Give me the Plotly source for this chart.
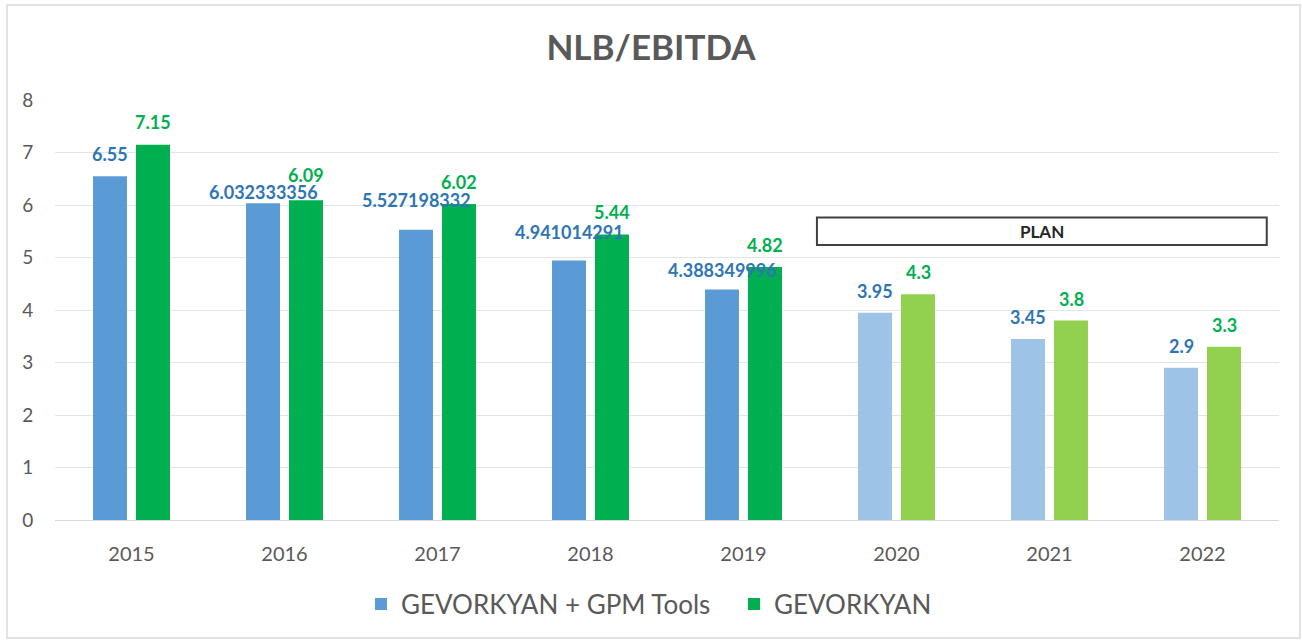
import plotly.graph_objects as go

years = ["2015", "2016", "2017", "2018", "2019", "2020", "2021", "2022"]
tools_vals = [6.55, 6.032333356, 5.527198332, 4.941014291, 4.388349996, 3.95, 3.45, 2.9]
gev_vals = [7.15, 6.09, 6.02, 5.44, 4.82, 4.3, 3.8, 3.3]
tools_labels = ["6.55", "6.032333356", "5.527198332", "4.941014291", "4.388349996", "3.95", "3.45", "2.9"]
gev_labels = ["7.15", "6.09", "6.02", "5.44", "4.82", "4.3", "3.8", "3.3"]
plan_years = {"2020", "2021", "2022"}

# label lift above bar top (px) - style only
tools_label_lift = [22, 11, 30, 29, 20, 22, 22, 22]
gev_label_lift = [23, 25, 22, 22, 22, 22, 22, 22]

blue_fact, blue_plan = "#5B9BD5", "#9DC3E6"
green_fact, green_plan = "#00B050", "#92D050"
tools_colors = [blue_plan if y in plan_years else blue_fact for y in years]
gev_colors = [green_plan if y in plan_years else green_fact for y in years]

FONT = "Lato"
GRAY = "#595959"

W, H = 1302, 640
PL, PR, PT, PB = 55, 1279, 100, 520   # plot area in page pixels


def px_x(page_x):
    return (page_x - PL) / (PR - PL)


def px_y(page_y):
    return (PB - page_y) / (PB - PT)


fig = go.Figure()
fig.add_trace(go.Bar(name="GEVORKYAN + GPM Tools", x=years, y=tools_vals,
                     marker=dict(color=tools_colors, line=dict(width=0))))
fig.add_trace(go.Bar(name="GEVORKYAN", x=years, y=gev_vals,
                     marker=dict(color=gev_colors, line=dict(width=0))))

# data labels (category axis -> use category index)
for i, (v, t, s) in enumerate(zip(tools_vals, tools_labels, tools_label_lift)):
    fig.add_annotation(x=i, y=v, text=t, showarrow=False, xref="x", yref="y",
                       xshift=-21.5, yshift=s, yanchor="middle",
                       font=dict(family=FONT, size=18, color="#2E75B6", weight="bold"))
for i, (v, t, s) in enumerate(zip(gev_vals, gev_labels, gev_label_lift)):
    fig.add_annotation(x=i, y=v, text=t, showarrow=False, xref="x", yref="y",
                       xshift=21.5, yshift=s, yanchor="middle",
                       font=dict(family=FONT, size=18, color="#00B050", weight="bold"))

# PLAN box
fig.add_shape(type="rect", xref="x", yref="y", x0=4.48, x1=7.42, y0=5.24, y1=5.76,
              line=dict(color="#404040", width=2), fillcolor="white", layer="above")
fig.add_annotation(x=5.95, y=5.50, xref="x", yref="y", text="PLAN", showarrow=False,
                   font=dict(family=FONT, size=17, color="#262626", weight="bold"))

# outer border
fig.add_shape(type="rect", xref="paper", yref="paper",
              x0=px_x(7), x1=px_x(1300), y0=px_y(638), y1=px_y(5),
              line=dict(color="#D9D9D9", width=1.5), layer="below")

fig.update_layout(
    width=W, height=H,
    margin=dict(l=PL, r=W - PR, t=PT, b=H - PB),
    paper_bgcolor="white", plot_bgcolor="white",
    barmode="group", bargap=0.438, bargroupgap=0.21,
    title=dict(text="<b>NLB/EBITDA</b>", x=0.5, xanchor="center",
               y=1 - 48 / H, yanchor="middle", yref="container",
               font=dict(family=FONT, size=35, color=GRAY)),
    xaxis=dict(type="category", range=[-0.5, 7.5], showgrid=False,
               showline=True, linecolor="#D9D9D9", linewidth=1,
               ticks="outside", ticklen=16, tickcolor="rgba(0,0,0,0)",
               tickfont=dict(family=FONT, size=20, color=GRAY)),
    yaxis=dict(range=[0, 8], dtick=1, showgrid=True, gridcolor="#E4E4E4", gridwidth=1,
               zeroline=False, showline=False,
               ticks="outside", ticklen=17, tickcolor="rgba(0,0,0,0)",
               tickfont=dict(family=FONT, size=19, color=GRAY)),
    legend=dict(orientation="h", x=px_x(406 - 45), xanchor="left",
                y=px_y(604), yanchor="middle",
                font=dict(family=FONT, size=26, color=GRAY), itemwidth=30,
                entrywidth=328, entrywidthmode="pixels",
                traceorder="normal"),
    showlegend=True,
)

fig.write_html("out.html", config={"displayModeBar": False},
               post_script="document.body.style.margin='0';")
